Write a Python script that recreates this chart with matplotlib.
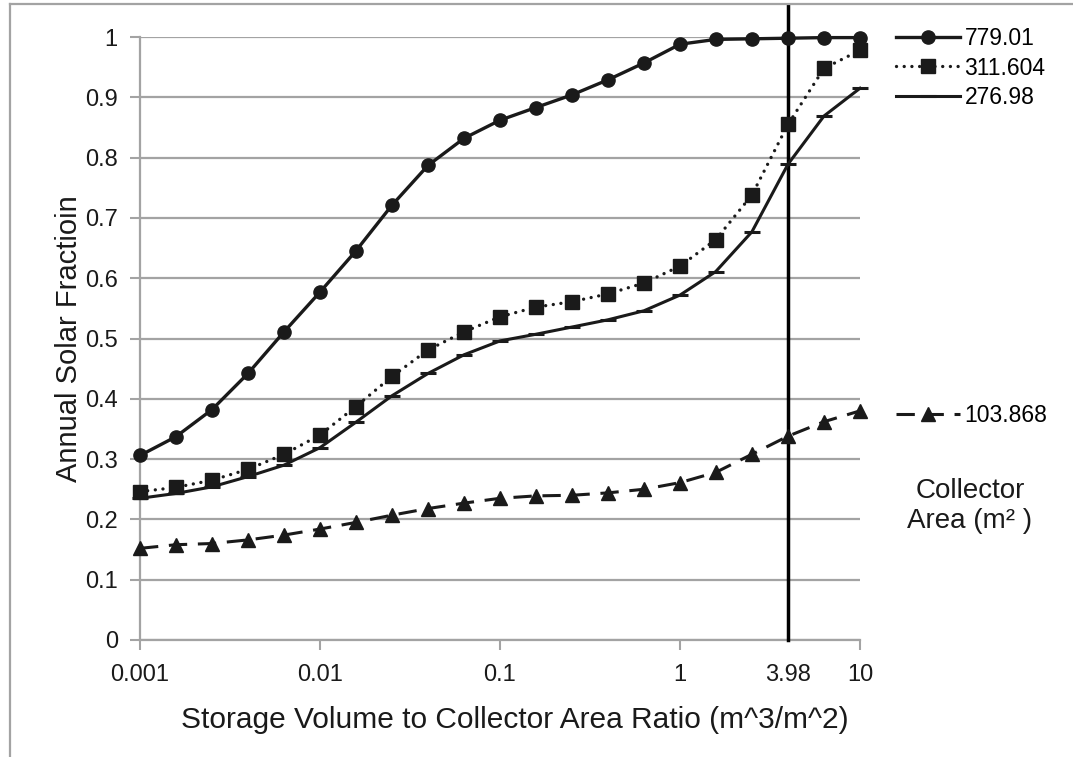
import numpy as np
import matplotlib
matplotlib.use("Agg")
import matplotlib.pyplot as plt
from matplotlib.lines import Line2D

plt.rcParams['font.family'] = ['Liberation Sans', 'DejaVu Sans']

# ratio values: 10^-3 ... 10^1 in 0.2-decade steps
ratio = [0.001, 0.00158, 0.00251, 0.00398, 0.00631, 0.01, 0.0158, 0.0251, 0.0398, 0.0631,
         0.1, 0.158, 0.251, 0.398, 0.631, 1.0, 1.58, 2.51, 3.98, 6.31, 10.0]

area_779 = [0.306, 0.337, 0.382, 0.442, 0.511, 0.577, 0.645, 0.721, 0.787, 0.832,
            0.862, 0.883, 0.904, 0.929, 0.957, 0.988, 0.996, 0.997, 0.998, 0.999, 0.999]
area_311 = [0.246, 0.253, 0.265, 0.283, 0.308, 0.340, 0.387, 0.437, 0.481, 0.511,
            0.536, 0.552, 0.561, 0.574, 0.592, 0.620, 0.664, 0.738, 0.855, 0.948, 0.978]
area_277 = [0.235, 0.243, 0.254, 0.271, 0.290, 0.319, 0.361, 0.405, 0.442, 0.473,
            0.496, 0.507, 0.519, 0.531, 0.546, 0.572, 0.611, 0.677, 0.789, 0.869, 0.915]
area_104 = [0.152, 0.158, 0.160, 0.166, 0.174, 0.184, 0.195, 0.207, 0.218, 0.227,
            0.235, 0.239, 0.240, 0.244, 0.250, 0.261, 0.278, 0.308, 0.338, 0.362, 0.380]

labels = ['779.01', '311.604', '276.98', '103.868']
xticks = [0.001, 0.01, 0.1, 1, 10]
xticklabels = ['0.001', '0.01', '0.1', '1', '10']
marked_ratio = 3.98
yticks = [0, 0.1, 0.2, 0.3, 0.4, 0.5, 0.6, 0.7, 0.8, 0.9, 1]
yticklabels = ['0', '0.1', '0.2', '0.3', '0.4', '0.5', '0.6', '0.7', '0.8', '0.9', '1']

W, H = 1073, 757
fig = plt.figure(figsize=(W / 100, H / 100), dpi=100)
ax = fig.add_axes([140 / W, 1 - 640 / H, 720 / W, 603 / H])

grey = '#A3A3A3'
ink = '#1a1a1a'
l1, = ax.plot(ratio, area_779, color=ink, lw=2.4, marker='o', ms=9.5, mfc=ink, mec=ink,
              clip_on=False, zorder=5)
l2, = ax.plot(ratio, area_311, color=ink, lw=2.4, ls=(0, (0.01, 2.3)), dash_capstyle='round',
              marker='s', ms=10, mfc=ink, mec=ink, clip_on=False, zorder=5)
l3, = ax.plot(ratio, area_277, color=ink, lw=2.2, marker='_', ms=11, mew=2.2,
              clip_on=False, zorder=5)
l4, = ax.plot(ratio, area_104, color=ink, lw=2.2, ls=(0, (6, 3.5)),
              marker='^', ms=10, mfc=ink, mec=ink, clip_on=False, zorder=5)

ax.axvline(marked_ratio, ymin=0, ymax=(640 - 5) / 603, color='black', lw=2.5, clip_on=False, zorder=4)

ax.set_xscale('log')
ax.set_xlim(0.001, 10)
ax.set_ylim(0, 1)
ax.set_xticks(xticks)
ax.set_xticklabels(xticklabels)
ax.set_xticks([marked_ratio], minor=True)
ax.set_xticklabels([str(marked_ratio)], minor=True)
ax.set_yticks(yticks)
ax.set_yticklabels(yticklabels)

fs_tick = 17
ax.tick_params(axis='both', which='major', direction='out', length=7, width=1.5, color=grey,
               labelsize=fs_tick, labelcolor=ink)
ax.tick_params(axis='x', which='major', pad=10)
ax.tick_params(axis='x', which='minor', length=0, labelsize=fs_tick, labelcolor=ink, pad=17)
ax.tick_params(axis='y', pad=9)

ax.grid(axis='y', color=grey, lw=1.6)
ax.set_axisbelow(True)
for s in ['top', 'right']:
    ax.spines[s].set_visible(False)
for s in ['left', 'bottom']:
    ax.spines[s].set_color(grey)
    ax.spines[s].set_linewidth(1.6)

ax.set_xlabel('Storage Volume to Collector Area Ratio (m^3/m^2)', fontsize=21.5, color=ink, labelpad=15)
ax.xaxis.label.set_x((515 - 140) / 720)
ax.set_ylabel('Annual Solar Fractioin', fontsize=21, color=ink, labelpad=1.5)

fs_leg = 16.5
leg1 = fig.legend([l1, l2, l3], labels[:3], loc='upper left', bbox_to_anchor=(875 / W, 1 - 6 / H),
                  frameon=False, fontsize=fs_leg, handlelength=2.8, handletextpad=0.2,
                  labelspacing=0.3)
leg2 = fig.legend([l4], labels[3:], loc='upper left', bbox_to_anchor=(875 / W, 1 - 383 / H),
                  frameon=False, fontsize=fs_leg, handlelength=2.8, handletextpad=0.2)

fig.text(970 / W, 1 - 506 / H, 'Collector\nArea (m\u00b2 )', ha='center', va='center', fontsize=20,
         color=ink, linespacing=1.15)

fig.add_artist(Line2D([10 / W, 10 / W], [0, 1 - 4 / H], color=grey, lw=1.6, transform=fig.transFigure))
fig.add_artist(Line2D([10 / W, 1], [1 - 4 / H, 1 - 4 / H], color=grey, lw=1.6, transform=fig.transFigure))

fig.savefig('out.png', dpi=100)
